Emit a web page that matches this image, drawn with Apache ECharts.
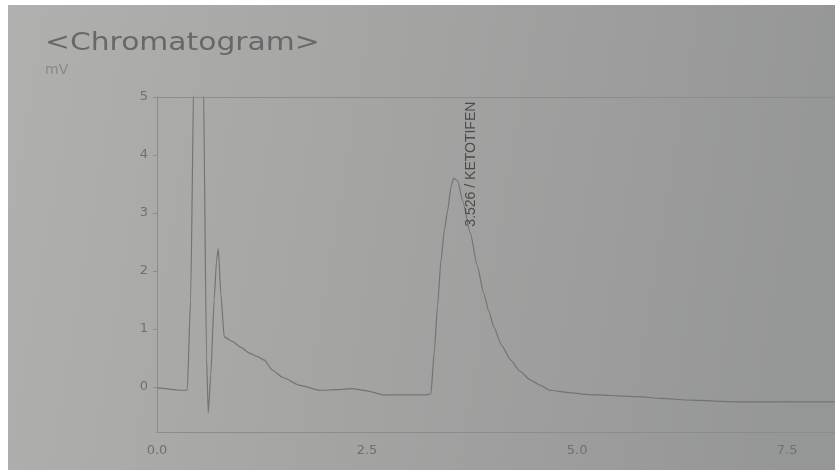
<!DOCTYPE html>
<html>
<head>
<meta charset="UTF-8">
<title>Chromatogram</title>
<script src="https://cdn.jsdelivr.net/npm/echarts@6/dist/echarts.min.js"></script>
<style>
  body { margin: 0; background: #ffffff; }
  #chart { position: absolute; left: 8px; top: 5px; width: 827px; height: 465px; }
</style>
</head>
<body>
<div id="chart"></div>
<script>
// retention time (min) and detector signal (mV)
const timeMin = [
  0.00, 0.10, 0.20, 0.30, 0.36, 0.40, 0.44, 0.47, 0.52, 0.55, 0.59, 0.61,
  0.64, 0.68, 0.71, 0.73, 0.76, 0.80, 0.90, 1.00, 1.10, 1.20, 1.28, 1.37,
  1.50, 1.69, 1.94, 2.15, 2.32, 2.50, 2.70, 3.00, 3.20, 3.26, 3.30, 3.34,
  3.38, 3.42, 3.46, 3.50, 3.53, 3.58, 3.64, 3.73, 3.81, 3.89, 3.95, 4.01,
  4.10, 4.21, 4.32, 4.44, 4.56, 4.68, 4.90, 5.10, 5.40, 5.73, 6.00, 6.36,
  6.70, 7.00, 7.50, 8.07
];
const signalMv = [
  -0.02, -0.03, -0.05, -0.06, -0.06, 1.5, 5.5, 9.0, 9.0, 5.5, 0.5, -0.45,
  0.2, 1.5, 2.2, 2.38, 1.6, 0.86, 0.78, 0.68, 0.58, 0.52, 0.46, 0.29,
  0.16, 0.03, -0.06, -0.05, -0.03, -0.07, -0.14, -0.14, -0.14, -0.12, 0.6, 1.4,
  2.18, 2.7, 3.05, 3.45, 3.6, 3.55, 3.2, 2.65, 2.1, 1.61, 1.3, 1.03,
  0.72, 0.46, 0.27, 0.12, 0.03, -0.06, -0.1, -0.13, -0.15, -0.17, -0.2, -0.23,
  -0.25, -0.26, -0.26, -0.26
];
const xTicks = [0, 2.5, 5, 7.5];
const yTicks = [0, 1, 2, 3, 4, 5];
const peakTime = 3.53;
const peakHeight = 3.6;
const peakName = '3.526 / KETOTIFEN';

const chart = echarts.init(document.getElementById('chart'));

const option = {
  backgroundColor: {
    type: 'linear', x: 0, y: 0, x2: 1, y2: 0.3,
    colorStops: [
      { offset: 0, color: '#b0b0ae' },
      { offset: 0.5, color: '#a3a3a2' },
      { offset: 1, color: '#959696' }
    ]
  },
  animation: false,
  graphic: [
    {
      type: 'text', left: 37, top: 27, scaleX: 1.24,
      style: { text: '<Chromatogram>', font: '24px "DejaVu Sans"', fill: '#686868' }
    },
    {
      type: 'text', left: 37, top: 58,
      style: { text: 'mV', font: '14px "DejaVu Sans"', fill: '#8a8a8a' }
    }
  ],
  grid: { left: 149, right: -5, top: 92, bottom: 38, show: false },
  xAxis: {
    type: 'value', min: 0, max: 8.07,
    axisLine: { show: true, onZero: false, lineStyle: { color: '#8c8c8c', width: 1 } },
    axisTick: { show: false },
    splitLine: { show: false },
    axisLabel: {
      customValues: xTicks, margin: 12,
      color: '#707070', fontSize: 13, fontFamily: '"DejaVu Sans"',
      formatter: v => v.toFixed(1)
    }
  },
  yAxis: {
    type: 'value', min: -0.78, max: 5,
    axisLine: { show: true, onZero: false, lineStyle: { color: '#8c8c8c', width: 1 } },
    axisTick: { show: true, customValues: yTicks, length: 4, lineStyle: { color: '#8c8c8c' } },
    splitLine: { show: false },
    axisLabel: {
      customValues: yTicks, margin: 9,
      color: '#707070', fontSize: 13, fontFamily: '"DejaVu Sans"'
    }
  },
  series: [
    {
      // top frame of the plot
      type: 'line', data: [], markLine: {
        silent: true, symbol: 'none', label: { show: false },
        lineStyle: { color: '#8c8c8c', type: 'solid', width: 1 },
        data: [{ yAxis: 5 }]
      }
    },
    {
      type: 'line',
      data: timeMin.map((t, i) => [t, signalMv[i]]),
      showSymbol: false,
      clip: true,
      smooth: 0.2,
      smoothMonotone: 'x',
      lineStyle: { color: '#747474', width: 1.2 },
      markPoint: {
        symbol: 'circle', symbolSize: 0,
        data: [{ coord: [peakTime, peakHeight] }],
        label: {
          show: true, position: 'inside', rotate: 90,
          offset: [14, 18],
          formatter: peakName,
          color: '#4c4c4c', fontSize: 14, fontFamily: '"Liberation Sans"'
        }
      }
    }
  ]
};

chart.setOption(option);
</script>
</body>
</html>
